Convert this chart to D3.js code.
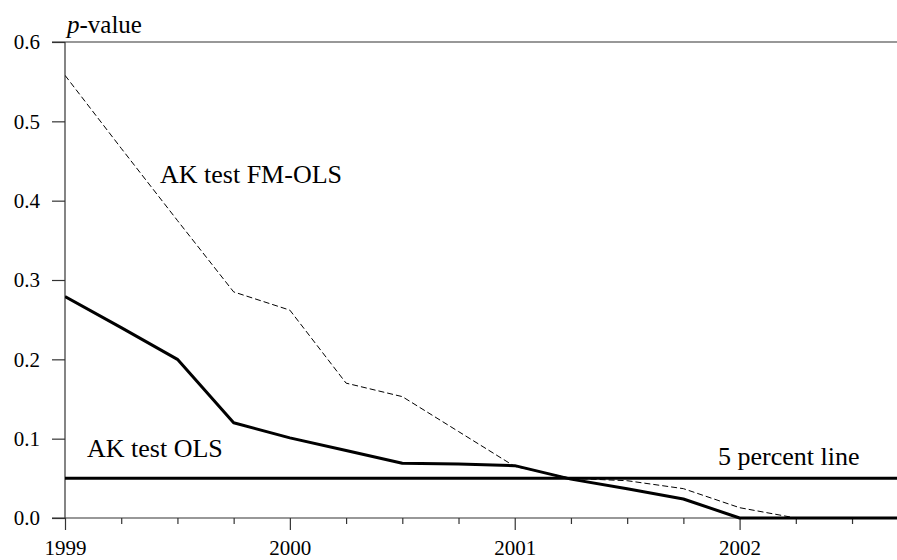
<!DOCTYPE html>
<html><head><meta charset="utf-8">
<script src="https://cdn.jsdelivr.net/npm/d3@7"></script>
<style>html,body{margin:0;padding:0;background:#fff;} svg{display:block;}</style>
</head><body>
<svg id="c" width="897" height="560"></svg>
<script>
const quarters = [1999, 1999.25, 1999.5, 1999.75, 2000, 2000.25, 2000.5, 2000.75, 2001, 2001.25, 2001.5, 2001.75, 2002, 2002.25, 2002.5, 2002.75];
const akOLS   = [0.279, 0.24, 0.200, 0.120, 0.101, 0.085, 0.069, 0.068, 0.066, 0.049, 0.037, 0.024, 0.0, 0.0, 0.0, 0.0];
const akFMOLS = [0.558, 0.466, 0.375, 0.285, 0.262, 0.170, 0.153, 0.109, 0.065, 0.050, 0.047, 0.037, 0.013, 0.0, 0.0, 0.0];
const fivePercent = 0.05;
const yTicks = [0, 0.1, 0.2, 0.3, 0.4, 0.5, 0.6];
const xMajorTicks = [1999, 2000, 2001, 2002];
const xMinorTicks = [1999.25, 1999.5, 1999.75, 2000.25, 2000.5, 2000.75, 2001.25, 2001.5, 2001.75, 2002.25, 2002.5];
const labels = {fm: "AK test FM-OLS", ols: "AK test OLS", five: "5 percent line"};

const FONT = "Liberation Serif";
const svg = d3.select("#c");
const L = 65, R = 897, T = 42, B = 518;
const x = d3.scaleLinear().domain([1999, 2002.7]).range([L, R]);
const y = d3.scaleLinear().domain([0, 0.6]).range([B, T]);
const axisColor = "#333";

svg.append("defs").append("clipPath").attr("id","clip")
  .append("rect").attr("x", L).attr("y", T - 5).attr("width", R - L).attr("height", B - T + 10);

// y axis
const yAxis = svg.append("g").attr("transform", `translate(${L},0)`)
  .call(d3.axisLeft(y).tickValues(yTicks).tickFormat(d3.format(".1f")).tickSize(13).tickPadding(12));
yAxis.attr("font-family", FONT);
yAxis.select(".domain").attr("stroke", axisColor).attr("stroke-width", 1.2).attr("d", `M0,${T}V${B}`);
yAxis.selectAll(".tick line").attr("stroke", axisColor).attr("stroke-width", 1.2);
yAxis.selectAll(".tick text").attr("font-size", 21).attr("fill", "#000").attr("font-family", FONT);

// top border line
svg.append("line").attr("x1", L - 13).attr("x2", R).attr("y1", T).attr("y2", T).attr("stroke", axisColor).attr("stroke-width", 1.2);

// x axis major
const xAxis = svg.append("g").attr("transform", `translate(0,${B})`)
  .call(d3.axisBottom(x).tickValues(xMajorTicks).tickFormat(d3.format("d")).tickSize(12).tickPadding(10));
xAxis.attr("font-family", FONT);
xAxis.select(".domain").attr("stroke", axisColor).attr("stroke-width", 1.2).attr("d", `M${L - 13},0H${R}`);
xAxis.selectAll(".tick line").attr("stroke", axisColor).attr("stroke-width", 1.2);
xAxis.selectAll(".tick text").attr("font-size", 21).attr("fill", "#000").attr("font-family", FONT);
// x axis minor
const xMinor = svg.append("g").attr("transform", `translate(0,${B})`)
  .call(d3.axisBottom(x).tickValues(xMinorTicks).tickFormat("").tickSize(6));
xMinor.select(".domain").remove();
xMinor.selectAll(".tick line").attr("stroke", axisColor).attr("stroke-width", 1.2);

const plot = svg.append("g").attr("clip-path", "url(#clip)");
const line = d3.line().x((d, i) => x(quarters[i])).y(d => y(d));

// 5 percent line
plot.append("line").attr("x1", L).attr("x2", R).attr("y1", y(fivePercent)).attr("y2", y(fivePercent))
  .attr("stroke", "#000").attr("stroke-width", 3);

plot.append("path").datum(akFMOLS).attr("d", line).attr("fill", "none")
  .attr("stroke", "#000").attr("stroke-width", 1).attr("stroke-dasharray", "6,3");
plot.append("path").datum(akOLS).attr("d", line).attr("fill", "none")
  .attr("stroke", "#000").attr("stroke-width", 3).attr("stroke-linejoin", "round");

// labels
const lab = (txt, px, py) => svg.append("text").attr("x", px).attr("y", py).attr("font-size", 26)
  .attr("font-family", FONT).attr("fill", "#000").text(txt);
lab(labels.fm, 160, 183);
lab(labels.ols, 87, 457);
lab(labels.five, 718, 465);

const pv = svg.append("text").attr("x", 67).attr("y", 33).attr("font-size", 25).attr("font-family", FONT).attr("fill", "#000");
pv.append("tspan").attr("font-style", "italic").text("p");
pv.append("tspan").text("-value");
</script>
</body></html>
